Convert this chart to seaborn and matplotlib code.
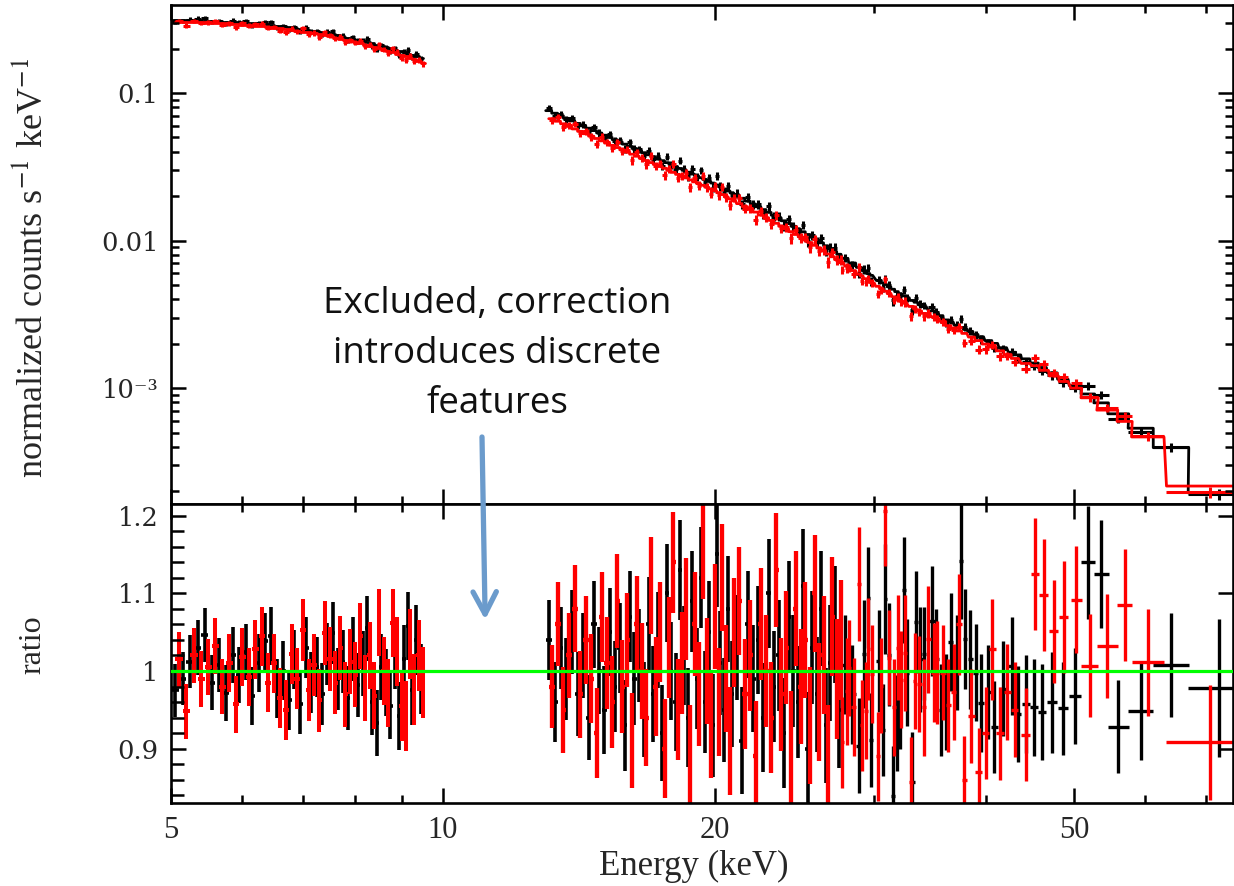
import numpy as np
import pandas as pd
import matplotlib
matplotlib.use("Agg")
import matplotlib.pyplot as plt
import seaborn as sns
from matplotlib.ticker import FixedLocator, FuncFormatter, MultipleLocator, LogLocator, NullFormatter

# ---------------- data ----------------
# Segment A : 5 - 9.5 keV
EA_black = [5.05,5.15,5.25,5.35,5.45,5.55,5.65,5.75,5.85,5.95,
            6.05,6.15,6.25,6.35,6.45,6.55,6.65,6.75,6.85,6.95,
            7.05,7.15,7.25,7.35,7.45,7.55,7.65,7.75,7.85,7.95,
            8.05,8.15,8.25,8.35,8.45,8.55,8.65,8.75,8.85,8.95,
            9.05,9.15,9.25,9.35,9.45]
MA_black = [0.3126,0.3118,0.3110,0.3102,0.3094,0.3082,0.3066,0.3050,0.3034,0.3018,
            0.2997,0.2971,0.2945,0.2919,0.2893,0.2863,0.2829,0.2795,0.2761,0.2727,
            0.2691,0.2653,0.2615,0.2577,0.2539,0.2499,0.2457,0.2415,0.2373,0.2331,
            0.2290,0.2250,0.2210,0.2170,0.2130,0.2090,0.2050,0.2010,0.1970,0.1930,
            0.1890,0.1850,0.1810,0.1770,0.1730]
RA_black = [0.975,0.990,1.012,1.030,1.046,0.985,1.008,0.972,1.020,0.995,
            1.025,0.968,1.010,1.038,1.045,0.978,1.000,0.962,1.015,0.958,
            1.030,0.985,1.005,0.970,1.022,1.049,0.990,1.012,0.965,1.028,
            0.982,1.010,1.055,0.960,0.933,1.005,0.985,0.955,1.020,0.942,
            1.015,1.058,0.975,1.040,0.990]
SA_black = [0.034,0.034,0.034,0.035,0.035,0.035,0.035,0.036,0.036,0.036,
            0.036,0.037,0.037,0.037,0.037,0.038,0.038,0.038,0.038,0.039,
            0.039,0.039,0.039,0.040,0.040,0.040,0.040,0.041,0.041,0.041,
            0.041,0.042,0.042,0.042,0.042,0.043,0.043,0.043,0.043,0.044,
            0.044,0.044,0.045,0.045,0.045]
EA_red = [5.1,5.2,5.3,5.4,5.5,5.6,5.7,5.8,5.9,6.0,
          6.1,6.2,6.3,6.4,6.5,6.6,6.7,6.8,6.9,7.0,
          7.1,7.2,7.3,7.4,7.5,7.6,7.7,7.8,7.9,8.0,
          8.1,8.2,8.3,8.4,8.5,8.6,8.7,8.8,8.9,9.0,
          9.1,9.2,9.3,9.4,9.5]
MA_red = [0.3032,0.3024,0.3016,0.3008,0.3000,0.2982,0.2964,0.2946,0.2928,0.2910,
          0.2884,0.2858,0.2832,0.2806,0.2780,0.2746,0.2712,0.2678,0.2644,0.2610,
          0.2572,0.2534,0.2496,0.2458,0.2420,0.2378,0.2336,0.2294,0.2252,0.2210,
          0.2170,0.2130,0.2090,0.2050,0.2010,0.1970,0.1930,0.1890,0.1850,0.1810,
          0.1770,0.1730,0.1690,0.1650,0.1610]
RA_red = [1.015,0.948,1.020,0.990,1.005,1.032,0.980,1.010,0.957,1.018,
          0.992,1.028,1.045,0.985,1.010,0.965,0.950,1.022,0.990,1.053,
          0.975,1.008,0.962,1.049,1.015,0.985,1.030,0.970,1.012,0.995,
          1.045,0.978,1.020,0.968,1.062,1.000,0.972,1.062,1.025,0.955,
          0.942,1.035,0.976,1.020,0.985]
SA_red = [0.035,0.035,0.035,0.036,0.036,0.036,0.036,0.037,0.037,0.037,
          0.037,0.038,0.038,0.038,0.038,0.039,0.039,0.039,0.039,0.040,
          0.040,0.040,0.040,0.041,0.041,0.041,0.041,0.042,0.042,0.042,
          0.042,0.043,0.043,0.043,0.043,0.044,0.044,0.044,0.044,0.045,
          0.045,0.045,0.046,0.046,0.046]
HW_A = 0.05

# Segment B1 : 13 - 21 keV
EB1_black = [13.1,13.3,13.5,13.7,13.9,14.1,14.3,14.5,14.7,14.9,
             15.1,15.3,15.5,15.7,15.9,16.1,16.3,16.5,16.7,16.9,
             17.1,17.3,17.5,17.7,17.9,18.1,18.3,18.5,18.7,18.9,
             19.1,19.3,19.5,19.7,19.9,20.1,20.3,20.5,20.7,20.9]
MB1_black = [0.07597,0.07299,0.07013,0.06738,0.06474,0.06223,0.05995,0.05776,0.05564,0.05361,
             0.05179,0.05001,0.04830,0.04664,0.04504,0.04348,0.04208,0.04073,0.03942,0.03815,
             0.03702,0.03590,0.03481,0.03375,0.03272,0.03173,0.03082,0.02993,0.02907,0.02823,
             0.02742,0.02667,0.02594,0.02523,0.02454,0.02382,0.02309,0.02237,0.02168,0.02101]
RB1_black = [1.04,0.96,1.03,0.99,1.05,0.97,1.02,0.94,1.06,1.00,
             0.95,1.05,0.98,1.03,0.93,1.07,0.99,1.02,0.95,1.06,
             0.97,1.04,0.92,1.10,1.00,0.96,1.13,1.02,0.94,1.09,
             0.99,1.12,0.96,1.05,0.93,1.15,1.01,0.95,1.08,0.97]
SB1_black = [0.052,0.052,0.053,0.053,0.054,0.054,0.055,0.055,0.056,0.056,
             0.057,0.057,0.058,0.058,0.059,0.059,0.060,0.060,0.061,0.061,
             0.062,0.062,0.062,0.063,0.063,0.063,0.064,0.064,0.064,0.065,
             0.065,0.065,0.066,0.066,0.066,0.067,0.067,0.067,0.068,0.068]
EB1_red = [13.2,13.4,13.6,13.8,14.0,14.2,14.4,14.6,14.8,15.0,
           15.2,15.4,15.6,15.8,16.0,16.2,16.4,16.6,16.8,17.0,
           17.2,17.4,17.6,17.8,18.0,18.2,18.4,18.6,18.8,19.0,
           19.2,19.4,19.6,19.8,20.0,20.2,20.4,20.6,20.8,21.0]
MB1_red = [0.0670,0.0644,0.0619,0.0594,0.0571,0.0550,0.0530,0.0510,0.0492,0.0474,
           0.0458,0.0442,0.0427,0.0412,0.0398,0.0385,0.0373,0.0361,0.0349,0.0338,
           0.0328,0.0318,0.0309,0.0299,0.0290,0.0281,0.0273,0.0266,0.0258,0.0250,
           0.0243,0.0237,0.0230,0.0224,0.0218,0.0211,0.0205,0.0198,0.0192,0.0186]
RB1_red = [0.98,1.06,0.95,1.02,1.08,0.97,1.04,0.99,0.92,1.07,
           1.01,0.96,1.09,0.98,1.04,0.91,1.06,1.00,0.94,1.11,
           0.98,1.05,0.90,1.03,1.14,0.95,1.01,1.08,0.89,1.06,
           0.97,1.16,1.00,0.93,1.07,0.96,1.12,0.99,0.91,1.05]
SB1_red = [0.054,0.054,0.055,0.055,0.056,0.056,0.057,0.057,0.058,0.058,
           0.059,0.059,0.060,0.060,0.061,0.061,0.062,0.062,0.063,0.063,
           0.064,0.064,0.064,0.065,0.065,0.065,0.066,0.066,0.066,0.067,
           0.067,0.067,0.068,0.068,0.068,0.069,0.069,0.069,0.070,0.070]
HW_B1 = 0.1

# Segment B2 : 21 - 27.7 keV
EB2_black = [21.15,21.45,21.75,22.05,22.35,22.65,22.95,23.25,23.55,23.85,
             24.15,24.45,24.75,25.05,25.35,25.65,25.95,26.25,26.55,26.85,
             27.15,27.45]
MB2_black = [0.02024,0.01936,0.01852,0.01771,0.01695,0.01622,0.01552,0.01486,0.01423,0.01362,
             0.01305,0.01250,0.01198,0.01148,0.01100,0.01055,0.01011,0.00966,0.00923,0.00882,
             0.00844,0.00808]
RB2_black = [1.03,0.91,1.06,0.99,1.04,0.94,1.10,0.98,1.02,0.92,
             1.07,1.00,0.96,1.11,0.90,1.03,0.97,1.08,0.93,1.01,
             1.06,0.95]
SB2_black = [0.068,0.069,0.069,0.069,0.070,0.070,0.070,0.071,0.071,0.071,
             0.072,0.072,0.072,0.073,0.073,0.073,0.074,0.074,0.074,0.075,
             0.075,0.075]
EB2_red = [21.3,21.6,21.9,22.2,22.5,22.8,23.1,23.4,23.7,24.0,
           24.3,24.6,24.9,25.2,25.5,25.8,26.1,26.4,26.7,27.0,
           27.3,27.6]
MB2_red = [0.0178,0.0170,0.0163,0.0156,0.0149,0.0143,0.0137,0.0131,0.0125,0.0120,
           0.0115,0.0110,0.0106,0.0101,0.00970,0.00929,0.00890,0.00850,0.00812,0.00777,
           0.00743,0.00712]
RB2_red = [1.09,0.97,1.02,0.89,1.06,1.00,0.94,1.13,0.97,1.03,
           0.90,1.08,0.98,1.04,0.93,1.10,0.96,1.02,0.88,1.07,
           0.99,1.04]
SB2_red = [0.070,0.071,0.071,0.071,0.072,0.072,0.072,0.073,0.073,0.073,
           0.074,0.074,0.074,0.075,0.075,0.075,0.076,0.076,0.076,0.077,
           0.077,0.077]
HW_B2 = 0.15

# Segment C : wider bins above ~28 keV
EC_black = [27.9,28.4,28.9,29.3,29.6,29.8,30.4,30.7,30.9,31.2,
            31.5,31.8,32.1,32.4,32.7,33.1,33.4,33.8,34.1,34.8,
            35.2,35.6,36.1,36.5,37.1,37.5,37.9,38.4,38.9,39.4,
            40.2,40.8,41.7,42.7,43.3,44.2,45.2,46.1,47.3,48.6,
            50.15,51.8,53.6,56.0,59.3,64.1,72.45]
WC_black = [0.2,0.25,0.2,0.15,0.12,0.12,0.2,0.15,0.12,0.15,
            0.15,0.15,0.15,0.15,0.15,0.2,0.15,0.2,0.2,0.3,
            0.2,0.2,0.25,0.25,0.25,0.2,0.2,0.25,0.25,0.3,
            0.35,0.35,0.4,0.4,0.35,0.45,0.45,0.5,0.6,0.65,
            0.75,0.9,1.0,1.5,1.9,2.9,5.55]
MC_black = [0.00757,0.00705,0.00658,0.00622,0.00597,0.00581,0.00537,0.00517,0.00504,0.00486,
            0.00468,0.00451,0.00436,0.00422,0.00410,0.00393,0.00382,0.00367,0.00357,0.00334,
            0.00321,0.00310,0.00290,0.00280,0.00267,0.00258,0.00250,0.00241,0.00231,0.00223,
            0.00210,0.00201,0.00188,0.00175,0.00168,0.00158,0.00148,0.00138,0.00127,0.00115,
            0.00104,0.000913,0.000795,0.000670,0.000535,0.000395,0.000195]
RC_black = [1.008,0.970,0.904,1.022,1.094,0.911,1.013,0.924,1.093,1.021,
            0.839,0.933,0.963,1.104,0.998,0.857,1.063,1.015,1.022,1.064,
            1.015,0.950,0.960,1.037,1.011,1.141,1.041,1.015,0.998,0.959,
            0.973,0.928,0.977,1.006,0.945,0.958,0.953,0.947,0.960,0.952,
            0.968,1.140,1.125,0.928,0.948,1.008,0.978]
SC_black = [0.064,0.064,0.061,0.070,0.065,0.060,0.066,0.059,0.071,0.066,
            0.065,0.062,0.064,0.068,0.069,0.065,0.066,0.068,0.060,0.071,
            0.065,0.059,0.062,0.063,0.061,0.074,0.064,0.064,0.062,0.063,
            0.060,0.059,0.061,0.063,0.062,0.063,0.062,0.062,0.065,0.060,
            0.062,0.073,0.070,0.060,0.062,0.067,0.089]
EC_red = [27.7,28.0,28.2,28.5,28.9,29.1,29.4,29.6,29.9,30.3,
          30.6,30.9,31.2,31.6,31.9,32.2,32.5,33.0,33.3,33.7,
          34.1,34.5,35.0,35.3,35.8,36.3,36.8,37.3,37.8,38.5,
          39.2,39.9,40.6,41.4,42.2,43.0,44.2,45.3,46.3,47.5,
          48.7,50.3,52.05,54.45,56.9,60.4,70.65]
WC_red = [0.1,0.12,0.1,0.15,0.15,0.1,0.15,0.1,0.15,0.15,
          0.15,0.15,0.15,0.15,0.15,0.15,0.15,0.2,0.15,0.2,
          0.2,0.2,0.25,0.15,0.25,0.25,0.25,0.25,0.25,0.3,
          0.35,0.35,0.35,0.4,0.4,0.4,0.5,0.45,0.55,0.55,
          0.55,0.7,1.15,1.45,1.1,2.5,7.35]
MC_red = [0.00701,0.00671,0.00653,0.00626,0.00592,0.00575,0.00552,0.00537,0.00516,0.00490,
          0.00472,0.00454,0.00437,0.00416,0.00401,0.00388,0.00376,0.00358,0.00347,0.00334,
          0.00321,0.00309,0.00304,0.00296,0.00283,0.00265,0.00254,0.00244,0.00235,0.00222,
          0.00210,0.00199,0.00190,0.00179,0.00169,0.00159,0.00147,0.00142,0.00132,0.00121,
          0.00111,0.00100,0.000860,0.000710,0.000595,0.000467,0.000217]
RC_red = [0.908,0.974,1.004,0.954,1.112,0.930,0.949,1.028,0.996,0.890,
          0.981,1.206,1.017,0.953,1.030,0.989,1.023,0.857,0.987,0.983,
          0.953,1.041,0.998,0.998,0.998,0.956,0.973,1.060,0.860,0.942,
          0.870,0.920,1.028,0.920,0.973,0.950,0.918,1.125,1.098,1.051,
          1.070,1.092,1.007,1.032,1.085,1.011,0.908]
SC_red = [0.059,0.069,0.062,0.063,0.074,0.059,0.062,0.066,0.063,0.057,
          0.061,0.071,0.061,0.063,0.068,0.062,0.075,0.058,0.062,0.062,
          0.062,0.069,0.064,0.066,0.061,0.060,0.062,0.065,0.056,0.060,
          0.057,0.059,0.065,0.060,0.062,0.061,0.060,0.072,0.072,0.066,
          0.072,0.069,0.066,0.067,0.072,0.069,0.074]

X_TICKS = [5, 10, 20, 50]
X_MINOR = [6, 7, 8, 9, 30, 40, 60, 70]
RATIO_TICKS = [0.9, 1.0, 1.1, 1.2]
ANNOT = ["Excluded, correction", "introduces discrete", "features"]

# ---------------- assemble tables ----------------
def block(E, W, M, R, S, det):
    E = np.asarray(E, float)
    W = np.broadcast_to(np.asarray(W, float), E.shape)
    return pd.DataFrame({"E": E, "hw": W, "model": M, "ratio": R, "err": S, "det": det})

# (parts, ratio-panel line width) ; dense narrow-bin parts drawn a bit bolder
black_blocks = [
    [(block(EA_black, HW_A, MA_black, RA_black, SA_black, "FPMA"), 2.6)],
    [(block(EB1_black, HW_B1, MB1_black, RB1_black, SB1_black, "FPMA"), 2.6),
     (block(EB2_black, HW_B2, MB2_black, RB2_black, SB2_black, "FPMA"), 2.6),
     (block(EC_black, WC_black, MC_black, RC_black, SC_black, "FPMA"), 2.4)],
]
red_blocks = [
    [(block(EA_red, HW_A, MA_red, RA_red, SA_red, "FPMB"), 2.9)],
    [(block(EB1_red, HW_B1, MB1_red, RB1_red, SB1_red, "FPMB"), 3.1),
     (block(EB2_red, HW_B2, MB2_red, RB2_red, SB2_red, "FPMB"), 3.1),
     (block(EC_red, WC_red, MC_red, RC_red, SC_red, "FPMB"), 2.4)],
]

# ---------------- figure ----------------
sns.set_style("ticks")
plt.rcParams['font.family'] = ['Liberation Serif', 'DejaVu Serif']
plt.rcParams['mathtext.fontset'] = 'stix'

FW, FH = 1234, 886
fig = plt.figure(figsize=(FW / 100, FH / 100), dpi=100)
L, R_ = 171, 1233
ax1 = fig.add_axes([L / FW, 1 - 504 / FH, (R_ - L) / FW, (504 - 5) / FH])
ax2 = fig.add_axes([L / FW, 1 - 803 / FH, (R_ - L) / FW, (803 - 504) / FH], sharex=ax1)

ax1.set_xscale('log')
ax1.set_yscale('log')

for blocks, col in ((black_blocks, '#000000'), (red_blocks, '#ff0000')):
    for parts in blocks:
        df = pd.concat([p for p, _ in parts], ignore_index=True)
        # model histogram (step) in the top panel
        xs = np.column_stack([df.E - df.hw, df.E + df.hw]).ravel()
        ys = np.repeat(df.model.values, 2)
        sns.lineplot(x=xs, y=ys, estimator=None, sort=False, color=col,
                     lw=2.0, ax=ax1, legend=False)
        ax1.errorbar(df.E, df.model * df.ratio, xerr=df.hw, yerr=df.model * df.err,
                     fmt='none', ecolor=col, elinewidth=2.2, capsize=0)
        for p, lw in parts:
            ax2.errorbar(p.E, p.ratio, xerr=p.hw, yerr=p.err, fmt='none',
                         ecolor=col, elinewidth=lw, capsize=0)

ax2.axhline(1.0, color='#00ff00', lw=2.3, zorder=10)

ax1.set_xlim(5, 75)
ax1.set_ylim(1.64e-4, 0.395)
ax2.set_ylim(0.83, 1.215)

# ticks
for ax in (ax1, ax2):
    ax.xaxis.set_major_locator(FixedLocator(X_TICKS))
    ax.xaxis.set_minor_locator(FixedLocator(X_MINOR))
    ax.xaxis.set_major_formatter(FuncFormatter(lambda v, p: f"{v:g}"))
    ax.xaxis.set_minor_formatter(NullFormatter())
    ax.tick_params(which='both', direction='in', top=True, right=True,
                   width=1.8, color='black')
    ax.tick_params(which='major', length=10.5)
    ax.tick_params(which='minor', length=5.5)
    for s in ax.spines.values():
        s.set_linewidth(1.9)
        s.set_color('black')
    ax.set_axisbelow(False)

ax1.yaxis.set_major_locator(LogLocator(base=10, numticks=10))
ax1.yaxis.set_minor_locator(LogLocator(base=10, subs=np.arange(2, 10), numticks=20))
ylab = {0.1: "0.1", 0.01: "0.01", 0.001: "10\u207b\u00b3"}
ax1.yaxis.set_major_formatter(FuncFormatter(lambda v, p: ylab.get(round(v, 6), "")))
ax1.yaxis.set_minor_formatter(NullFormatter())
ax1.tick_params(axis='x', labelbottom=False)
ax1.tick_params(axis='y', labelsize=18.5, labelfontfamily='DejaVu Serif', pad=9)

ax2.yaxis.set_major_locator(FixedLocator(RATIO_TICKS))
ax2.yaxis.set_minor_locator(MultipleLocator(0.02))
ax2.yaxis.set_major_formatter(FuncFormatter(lambda v, p: f"{v:g}"))
ax2.tick_params(axis='y', which='minor', length=9, right=False)
ax2.tick_params(axis='y', labelsize=18.5, labelfontfamily='DejaVu Serif', pad=9)
ax2.tick_params(axis='x', labelsize=22, pad=9)

ax1.set_ylabel("")
ax2.set_ylabel("")
ax2.set_xlabel("")

fig.text(33 / FW, 1 - 268 / FH, r"normalized counts s$^{-1}$ keV$^{-1}$", rotation=90,
         ha='center', va='center', fontsize=26)
fig.text(33 / FW, 1 - 645 / FH, "ratio", rotation=90, ha='center', va='center', fontsize=23)
fig.text(694 / FW, 1 - 866 / FH, "Energy (keV)", ha='center', va='center', fontsize=25)

# annotation
for txt, yb in zip(ANNOT, (313, 363, 413)):
    fig.text(497 / FW, 1 - yb / FH, txt, ha='center', va='baseline', fontsize=26.5,
             family='Open Sans', color='#111111')
ax2.annotate('', xy=(11.14, 1.066), xycoords='data',
             xytext=(482 / FW, 1 - 437 / FH), textcoords='figure fraction',
             arrowprops=dict(arrowstyle='->,head_length=0.8,head_width=0.42',
                             color='#6b9bcc', lw=3.8, shrinkA=0, shrinkB=0,
                             mutation_scale=20),
             annotation_clip=False)

fig.savefig("out.png", dpi=100)
